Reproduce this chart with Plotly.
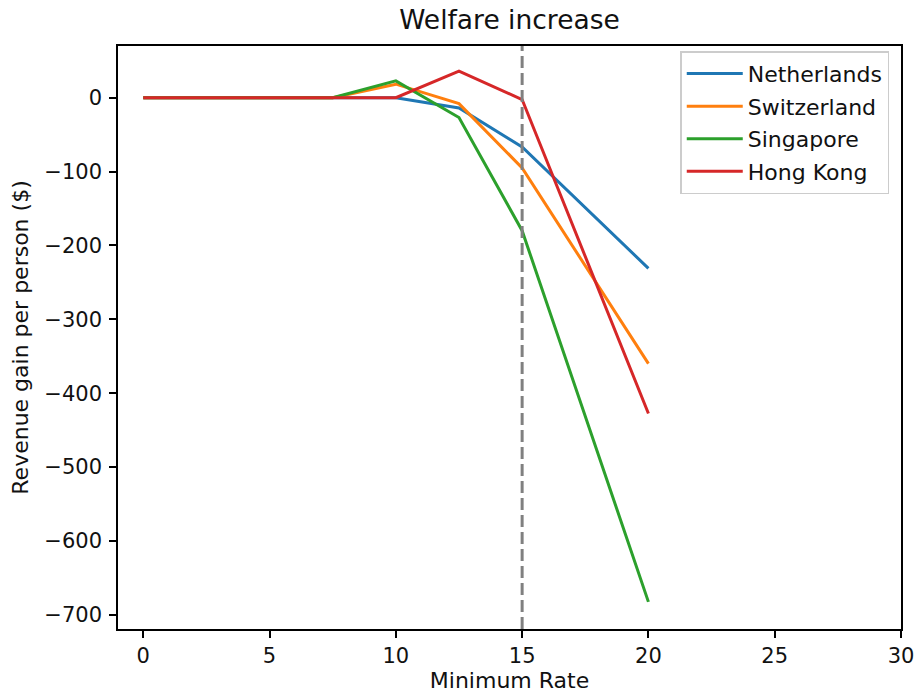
import plotly.graph_objects as go

# Data
min_rate = [0, 2.5, 5, 7.5, 10, 12.5, 15, 20]
netherlands = [0, 0, 0, 0, 0, -13.8, -66.6, -231]
switzerland = [0, 0, 0, 0, 18.3, -8, -95, -360]
singapore = [0, 0, 0, 0, 22.8, -26.8, -180, -682.5]
hong_kong = [0, 0, 0, 0, 0, 35.9, -2.5, -427.5]
series_names = ["Netherlands", "Switzerland", "Singapore", "Hong Kong"]
series_values = [netherlands, switzerland, singapore, hong_kong]
colors = ["#1f77b4", "#ff7f0e", "#2ca02c", "#d62728"]
vline_x = 15
x_ticks = [0, 5, 10, 15, 20, 25, 30]
y_ticks = [0, -100, -200, -300, -400, -500, -600, -700]

FONT = "DejaVu Sans"
TXT = "#111111"
fig = go.Figure()
for name, vals, c in zip(series_names, series_values, colors):
    fig.add_trace(go.Scatter(x=min_rate, y=vals, mode="lines", name=name,
                             legendgroup=name,
                             line=dict(color=c, width=3)))

fig.add_vline(x=vline_x, line=dict(color="#808080", width=3, dash="12px,5px"))

axis_common = dict(showline=True, linecolor="black", linewidth=1.5, mirror=True,
                   ticks="outside", ticklen=7, tickwidth=1.5, tickcolor="black",
                   showgrid=False, zeroline=False, automargin=False,
                   tickfont=dict(family=FONT, size=21, color=TXT))

fig.update_xaxes(range=[-1, 30], tickvals=x_ticks,
                 title=dict(text="Minimum Rate", font=dict(family=FONT, size=22, color=TXT), standoff=6),
                 **axis_common)
fig.update_yaxes(range=[-719.2, 70], tickvals=y_ticks, ticklabelstandoff=3,
                 title=dict(text="Revenue gain per person ($)", font=dict(family=FONT, size=22, color=TXT), standoff=10),
                 **axis_common)

fig.update_layout(
    width=915, height=697,
    margin=dict(l=118, r=14, t=46, b=68, autoexpand=False),
    paper_bgcolor="white", plot_bgcolor="white",
    title=dict(text="Welfare increase", x=(118 + 901) / 2 / 915, xanchor="center",
               y=1 - 20 / 697, yanchor="middle", yref="container",
               font=dict(family=FONT, size=26.5, color=TXT), automargin=False),
    legend=dict(x=0.985, y=0.991, xanchor="right", yanchor="top",
                bgcolor="rgba(255,255,255,0.8)", bordercolor="#cccccc", borderwidth=1.5,
                font=dict(family=FONT, size=22, color=TXT),
                tracegroupgap=1, itemwidth=56),
    showlegend=True,
)

fig.write_html("out.html", config={"displayModeBar": False},
               post_script="document.body.style.margin='0';")
